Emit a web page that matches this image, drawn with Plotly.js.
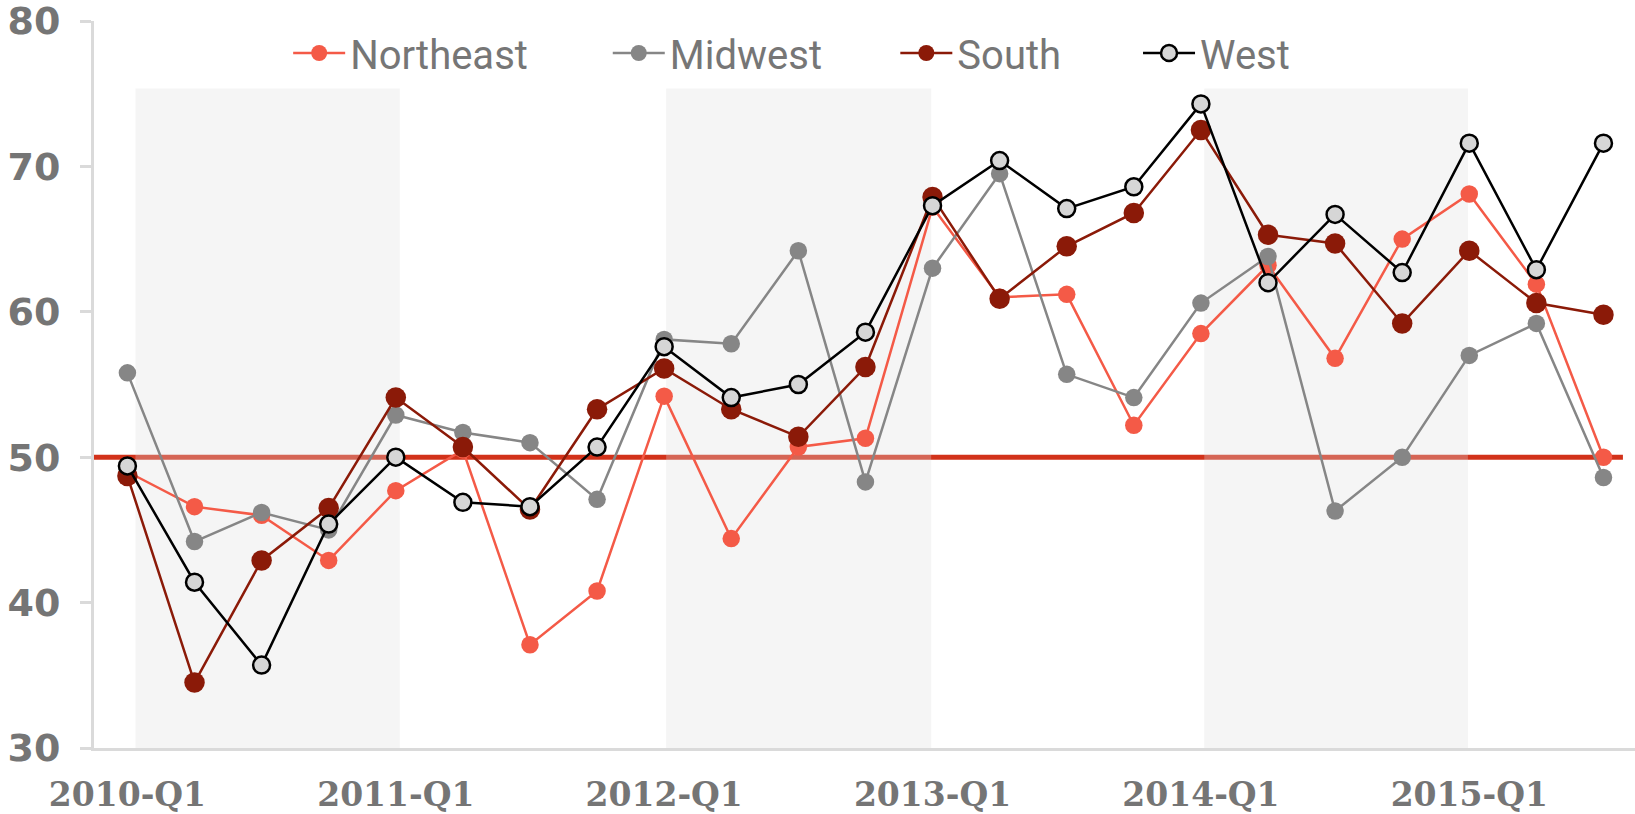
<!DOCTYPE html>
<html>
<head>
<meta charset="utf-8">
<script src="https://cdn.plot.ly/plotly-3.0.1.min.js"></script>
<style>
  html, body { margin: 0; padding: 0; background: #ffffff; }
  #chart { width: 1635px; height: 814px; }
</style>
</head>
<body>
<div id="chart"></div>
<script>
// ---- data ----
const quarters = [
  "2010-Q1","2010-Q2","2010-Q3","2010-Q4",
  "2011-Q1","2011-Q2","2011-Q3","2011-Q4",
  "2012-Q1","2012-Q2","2012-Q3","2012-Q4",
  "2013-Q1","2013-Q2","2013-Q3","2013-Q4",
  "2014-Q1","2014-Q2","2014-Q3","2014-Q4",
  "2015-Q1","2015-Q2","2015-Q3"
];
const northeast = [49.0, 46.6, 46.0, 42.9, 47.7, 50.5, 37.1, 40.8, 54.2, 44.4, 50.7, 51.3, 67.2, 61.0, 61.2, 52.2, 58.5, 63.2, 56.8, 65.0, 68.1, 61.9, 50.0];
const midwest   = [55.8, 44.2, 46.2, 45.0, 52.9, 51.7, 51.0, 47.1, 58.1, 57.8, 64.2, 48.3, 63.0, 69.5, 55.7, 54.1, 60.6, 63.8, 46.3, 50.0, 57.0, 59.2, 48.6];
const south     = [48.7, 34.5, 42.9, 46.5, 54.1, 50.7, 46.4, 53.3, 56.1, 53.3, 51.4, 56.2, 67.9, 60.9, 64.5, 66.8, 72.5, 65.3, 64.7, 59.2, 64.2, 60.6, 59.8];
const west      = [49.4, 41.4, 35.7, 45.4, 50.0, 46.9, 46.6, 50.7, 57.6, 54.1, 55.0, 58.6, 67.3, 70.4, 67.1, 68.6, 74.3, 62.0, 66.7, 62.7, 71.6, 62.9, 71.6];
const tickLabels = ["2010-Q1","2011-Q1","2012-Q1","2013-Q1","2014-Q1","2015-Q1"];
const yTicks = [30, 40, 50, 60, 70, 80];
const shadedYears = ["2010-Q1","2012-Q1","2014-Q1"];
const referenceValue = 50;

// ---- styling ----
const tickColor = "#757575";
const axisColor = "#dadada";
const bandStartOffsets = [0.12, 0.03, 0.05];
const bandEndOffsets = [4.06, 3.98, 3.98];

function series(name, y, color, size, legendId, extraMarker) {
  return {
    type: "scatter", mode: "lines+markers",
    x: quarters, y: y, name: name, legend: legendId,
    line: { color: extraMarker ? "#000000" : color, width: 2.5 },
    marker: Object.assign({ color: color, size: size }, extraMarker || {}),
    cliponaxis: false
  };
}

const traces = [
  series("Northeast", northeast, "#f45a47", 17.5, "legend"),
  series("Midwest", midwest, "#868686", 17.5, "legend2"),
  series("South", south, "#8b1a08", 20.5, "legend3"),
  series("West", west, "#d6d6d6", 17, "legend4", { line: { color: "#000000", width: 2.5 } })
];

const shapes = [{
  type: "line", layer: "below", xref: "x", yref: "y",
  x0: -0.5, x1: 22.29, y0: referenceValue, y1: referenceValue,
  line: { color: "#d2321a", width: 5 }
}];
shadedYears.forEach((q, k) => {
  const i = quarters.indexOf(q);
  shapes.push({
    type: "rect", layer: "below", xref: "x", yref: "y",
    x0: i + bandStartOffsets[k], x1: i + bandEndOffsets[k], y0: 30, y1: 75.35,
    fillcolor: "rgba(222,222,222,0.3)", line: { width: 0 }
  });
});

const legendFont = { family: "Roboto, 'Liberation Sans', sans-serif", size: 40, color: "#767676" };
function legendAt(x) {
  return {
    x: x, xref: "paper", xanchor: "left",
    y: 0.956, yref: "paper", yanchor: "middle",
    orientation: "h", bgcolor: "rgba(0,0,0,0)", borderwidth: 0,
    font: legendFont, itemwidth: 52, itemclick: false, itemdoubleclick: false
  };
}

const layout = {
  width: 1635, height: 814,
  margin: { l: 93.8, r: 0, t: 20.9, b: 66.4, pad: 0 },
  paper_bgcolor: "#ffffff", plot_bgcolor: "#ffffff",
  showlegend: true,
  legend: legendAt(0.126),
  legend2: legendAt(0.3334),
  legend3: legendAt(0.52),
  legend4: legendAt(0.6775),
  xaxis: {
    type: "category", range: [-0.498, 22.47],
    tickmode: "array", tickvals: tickLabels, ticktext: tickLabels,
    showgrid: false, zeroline: false,
    showline: true, linecolor: axisColor, linewidth: 3,
    ticks: "", ticklabelstandoff: 15, ticklabeloverflow: "allow",
    tickfont: { family: "'DejaVu Serif', serif", size: 33, color: tickColor, weight: "bold" }
  },
  yaxis: {
    range: [30, 80], tickmode: "array", tickvals: yTicks,
    showgrid: false, zeroline: false,
    showline: true, linecolor: axisColor, linewidth: 3,
    ticks: "outside", ticklen: 11, tickwidth: 3, tickcolor: axisColor,
    ticklabelstandoff: 12, ticklabeloverflow: "allow",
    tickfont: { family: "'DejaVu Sans', sans-serif", size: 38, color: tickColor, weight: "bold" }
  },
  shapes: shapes
};

Plotly.newPlot("chart", traces, layout, { staticPlot: true, displayModeBar: false });
</script>
</body>
</html>
